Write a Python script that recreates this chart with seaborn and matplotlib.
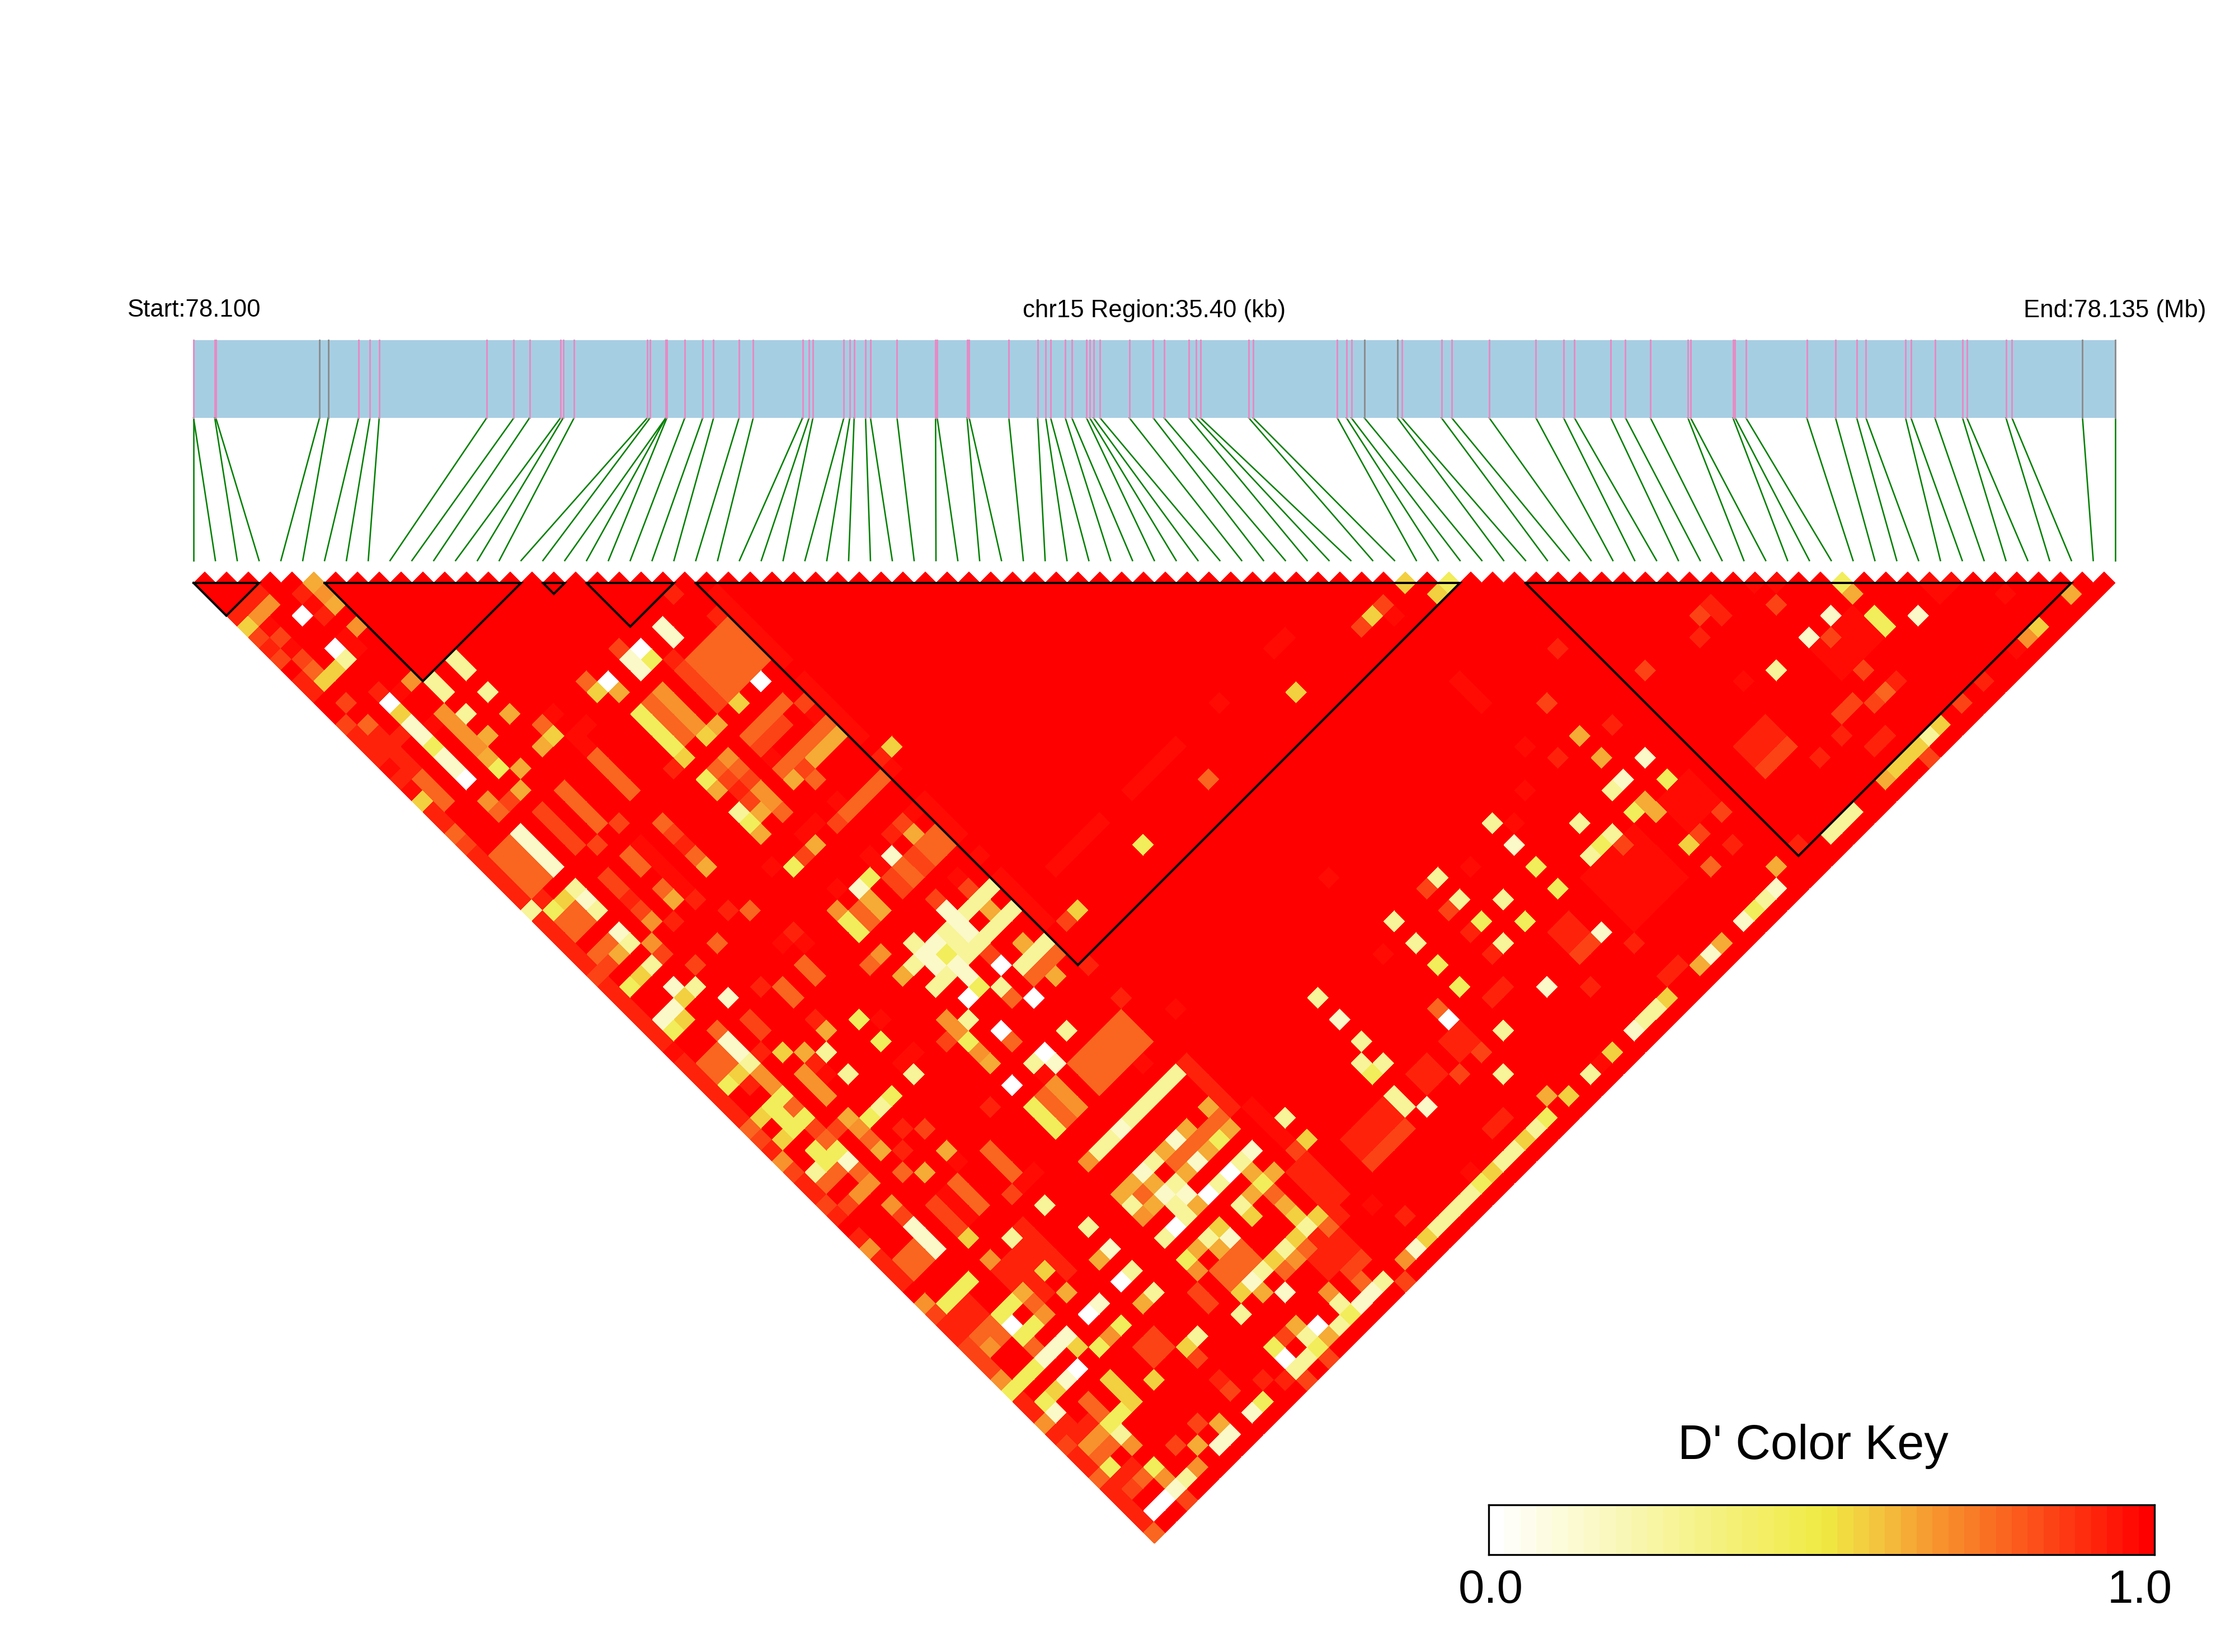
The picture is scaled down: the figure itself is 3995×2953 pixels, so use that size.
import matplotlib
matplotlib.use("Agg")
import matplotlib.pyplot as plt
import seaborn as sns
import numpy as np
from matplotlib.colors import LinearSegmentedColormap
from matplotlib.transforms import Affine2D

plt.rcParams["font.family"] = ["Liberation Sans", "DejaVu Sans"]

# SNP positions in kb from the region start
snp_kb = [0.00, 0.00, 0.39, 0.41, 2.32, 2.48, 3.04, 3.25, 3.42, 5.40, 5.90, 6.19, 6.76, 6.81, 7.01,
          8.36, 8.41, 8.70, 8.70, 8.72, 9.05, 9.38, 9.58, 10.05, 10.31, 11.22, 11.34, 11.41, 11.98,
          12.09, 12.17, 12.38, 12.47, 12.96, 13.67, 13.70, 14.25, 14.29, 15.02, 15.55, 15.70, 15.79,
          16.06, 16.18, 16.45, 16.51, 16.58, 16.70, 17.24, 17.68, 17.88, 18.34, 18.47, 18.55, 19.44,
          19.52, 21.07, 21.24, 21.33, 21.57, 22.18, 22.26, 22.99, 23.18, 23.87, 24.73, 25.24, 25.44,
          26.11, 26.38, 26.84, 27.53, 27.58, 28.36, 28.40, 28.60, 29.72, 30.25, 30.64, 30.81, 31.54,
          31.64, 32.08, 32.59, 32.67, 33.39, 33.50, 34.80, 35.40]
gray_snps = [4, 5, 59, 60, 87, 88]
region_kb = 35.40

# LD blocks, first and last SNP
blocks = [(0, 3), (6, 15), (16, 17), (18, 22), (23, 58), (61, 86)]

# D' levels
WHITE, CREAM, PALE, YELLOW, GOLD, AMBER = 0.02, 0.15, 0.28, 0.45, 0.55, 0.62
ORANGE, CORAL, TOMATO, RED_D, RED_S = 0.69, 0.78, 0.84, 0.91, 0.96

white_cells = [(3, 6), (3, 9), (3, 14), (3, 21), (17, 23), (21, 30), (19, 57), (16, 54), (19, 54), (16, 57),
               (14, 60), (17, 60), (3, 71), (4, 76), (1, 86), (2, 86), (20, 74), (18, 74), (15, 74), (7, 74),
               (10, 74), (17, 85), (14, 85), (37, 77), (14, 23)]
cream_cells = [(3, 16), (3, 17), (3, 19), (3, 20), (19, 23), (19, 24), (16, 24), (19, 44), (16, 44), (19, 49),
               (19, 50), (19, 51), (17, 50), (16, 50), (16, 51), (17, 52), (17, 53), (3, 45), (3, 46), (1, 41),
               (2, 41), (1, 77), (3, 56), (3, 62), (3, 63), (3, 64), (4, 74), (5, 74), (3, 74), (3, 76), (17, 61),
               (17, 67), (16, 70), (19, 70), (19, 72), (16, 72), (17, 73), (17, 77), (16, 80), (17, 82), (10, 86),
               (8, 86), (7, 86), (3, 86), (21, 86), (20, 86), (25, 86), (8, 74), (22, 74), (32, 72), (32, 80),
               (48, 72), (58, 74), (56, 74), (73, 76), (71, 76), (77, 80), (58, 86), (55, 86), (52, 86), (45, 86),
               (48, 80), (43, 80), (11, 72), (3, 40), (5, 43), (3, 32), (3, 35), (16, 23)]
pale_cells = [(3, 10), (6, 15), (6, 16), (8, 15), (8, 16), (8, 18), (6, 18), (0, 30), (22, 50), (21, 50), (20, 50),
              (21, 52), (22, 52), (20, 52), (19, 52), (18, 51), (18, 50), (16, 49), (15, 50), (18, 52), (16, 52),
              (15, 52), (18, 55), (20, 55), (21, 55), (22, 55), (14, 35), (3, 38), (4, 41), (7, 50), (7, 52),
              (3, 47), (10, 55), (7, 55), (1, 55), (15, 55), (16, 60), (19, 60), (10, 67), (7, 67),
              (22, 67), (21, 67), (20, 67), (19, 67), (18, 67), (16, 67), (15, 67), (17, 70), (17, 72), (14, 71),
              (21, 74), (19, 74), (16, 73), (16, 74), (14, 74), (19, 76), (16, 76), (21, 80), (19, 80), (17, 80),
              (14, 81), (22, 86), (19, 85), (18, 86), (16, 85), (15, 86), (14, 86), (27, 86), (28, 86), (29, 86),
              (30, 86), (33, 86), (34, 86), (32, 74), (31, 75), (32, 76), (31, 78), (31, 79), (39, 80), (37, 82),
              (25, 74), (11, 70), (11, 74), (11, 76), (11, 80), (3, 81), (4, 86), (48, 70), (43, 70), (43, 72),
              (45, 74), (43, 76), (39, 70), (39, 72), (32, 70), (68, 76), (55, 74), (52, 74), (53, 76), (51, 76),
              (57, 86), (47, 86), (46, 86), (41, 86), (36, 86), (65, 86), (64, 86), (63, 86), (72, 86),
              (3, 31), (3, 33), (3, 36)]
yellow_cells = [(3, 18), (5, 22), (14, 36), (14, 32), (14, 40), (17, 24), (17, 44), (14, 45), (14, 46), (17, 51),
                (17, 54), (1, 42), (1, 47), (3, 50), (2, 50), (2, 51), (3, 52), (2, 52), (10, 50), (10, 52), (14, 56),
                (8, 55), (6, 55), (3, 55), (2, 55), (0, 74), (1, 74), (2, 74), (3, 67), (2, 67), (1, 67), (4, 70),
                (3, 70), (4, 72), (3, 72), (1, 76), (4, 80), (3, 80), (3, 84), (1, 82), (6, 76), (8, 76), (21, 72),
                (21, 76), (14, 76), (11, 86), (16, 86), (14, 84), (19, 86), (31, 86), (31, 76), (45, 76), (43, 74),
                (39, 74), (39, 76), (31, 55), (48, 74), (48, 76), (52, 76), (55, 76), (58, 76), (56, 86), (37, 86),
                (75, 75), (75, 78), (75, 79), (57, 57), (1, 31), (1, 38), (2, 54)]
gold_cells = [(0, 4), (2, 10), (1, 10), (0, 20), (3, 15), (19, 30), (16, 30), (14, 30), (2, 38), (3, 41), (24, 39),
              (25, 55), (2, 42), (2, 47), (1, 50), (1, 52), (5, 48), (5, 65), (2, 76), (5, 75), (7, 70), (19, 77),
              (21, 79), (22, 80), (20, 80), (18, 80), (15, 80), (25, 76), (32, 86), (26, 86), (35, 86), (10, 80),
              (5, 78), (5, 79), (5, 80), (7, 80), (17, 76), (55, 55), (56, 57), (52, 55), (45, 55), (56, 80),
              (48, 86), (43, 86), (39, 86), (73, 86), (71, 86), (70, 86), (69, 86), (82, 86), (2, 31), (9, 23), (13, 23)]
amber_cells = [(5, 5), (5, 7), (6, 20), (8, 20), (6, 23), (5, 24), (5, 21), (21, 44), (21, 51), (21, 54),
               (21, 57), (17, 30), (21, 36), (22, 36), (20, 36), (18, 36), (14, 33), (15, 36), (14, 37), (16, 40),
               (16, 45), (16, 46), (10, 36), (7, 36), (6, 49), (8, 49), (14, 50), (5, 57), (14, 58), (5, 54),
               (8, 60), (6, 60), (5, 70), (7, 72), (22, 70), (20, 70), (18, 70), (15, 70), (14, 70), (22, 72),
               (20, 72), (18, 72), (15, 72), (16, 71), (17, 74), (21, 75), (22, 76), (20, 76), (15, 76), (16, 77),
               (21, 78), (16, 81), (16, 84), (17, 86), (10, 72), (10, 76), (8, 85), (6, 85), (38, 85),
               (56, 70), (56, 72), (56, 76), (56, 77), (75, 76), (85, 86), (59, 85), (53, 86), (51, 86), (68, 86),
               (2, 36), (8, 23), (14, 24), (8, 85)]
orange_cells = [(5, 6), (2, 4), (1, 4), (5, 9), (5, 14), (5, 17), (5, 18), (5, 19), (5, 20), (3, 23), (16, 32), (16, 35),
                (16, 36), (14, 48), (14, 44), (5, 36), (4, 37), (3, 48), (3, 49), (5, 50), (5, 51), (5, 52),
                (5, 55), (3, 58), (2, 58), (3, 60), (14, 54), (14, 55), (14, 57), (5, 67), (5, 72), (0, 53), (0, 61),
                (0, 66), (0, 73), (0, 77), (14, 67), (14, 72), (14, 77), (7, 76), (19, 81), (19, 84), (24, 86),
                (1, 80), (2, 80), (3, 82), (5, 86), (3, 85), (81, 86), (1, 71)]
coral_cells = [(1, 9), (1, 19), (1, 20), (1, 21), (0, 23), (3, 24), (1, 14), (18, 32), (18, 35), (19, 37), (19, 32),
               (20, 32), (21, 32), (22, 35), (21, 35), (20, 35), (19, 35), (15, 32), (16, 33), (16, 37), (22, 40),
               (21, 40), (20, 40), (19, 40), (22, 45), (22, 46), (21, 45), (21, 46), (19, 45), (19, 46), (15, 45),
               (15, 46), (10, 32), (10, 35), (10, 45), (10, 46), (7, 33), (7, 35), (7, 40), (10, 40), (13, 48),
               (22, 56), (21, 56), (20, 56), (18, 56), (3, 44), (2, 56), (1, 56), (3, 51), (3, 57), (5, 56), (5, 59),
               (16, 58), (37, 76), (37, 55), (56, 82), (72, 82), (15, 71), (22, 71), (21, 71), (20, 71), (19, 71),
               (18, 71), (21, 77), (17, 78), (17, 79), (16, 78), (16, 79), (15, 78), (15, 79), (22, 81), (20, 81),
               (18, 81), (3, 73), (5, 71), (0, 50), (0, 82), (0, 87), (1, 81), (2, 81), (2, 84), (1, 32), (1, 33),
               (2, 32), (2, 33), (2, 35), (1, 35), (7, 32), (13, 22), (9, 22), (3, 54), (8, 45), (8, 46), (3, 78),
               (3, 79), (21, 85)]
tomato_cells = [(0, 5), (0, 7), (1, 6), (1, 8), (1, 12), (0, 13), (4, 24), (0, 24), (18, 33), (19, 33), (20, 33),
                (15, 33), (15, 35), (15, 40), (18, 40), (16, 34), (22, 33), (10, 33), (20, 45), (20, 46), (18, 45),
                (18, 46), (21, 43), (19, 48), (21, 49), (5, 35), (5, 40), (4, 38), (19, 36), (19, 53), (24, 55),
                (13, 55), (1, 58), (0, 51), (0, 54), (0, 57), (0, 67), (0, 70), (0, 71), (0, 72), (0, 79), (3, 61),
                (9, 65), (1, 84), (3, 87), (10, 81), (13, 78), (13, 79), (15, 84),
                (10, 84), (16, 87), (14, 87), (7, 84), (24, 76), (23, 87), (37, 80), (35, 80), (42, 70), (42, 72),
                (53, 55), (51, 55), (71, 73), (67, 70), (62, 70), (56, 67), (72, 77), (72, 80), (71, 82), (70, 81),
                (69, 81), (75, 86), (71, 87), (53, 77), (57, 80), (59, 80), (46, 80), (5, 32), (5, 33), (6, 30),
                (8, 30), (1, 36), (0, 36), (16, 22), (5, 45), (5, 46), (4, 54), (3, 53), (8, 58), (5, 84), (22, 84),
                (21, 84)]
scarlet_cells = [(2, 3), (4, 5), (1, 3), (4, 7), (0, 3), (0, 6), (0, 9), (0, 10), (3, 13), (0, 14), (0, 15), (0, 16),
                 (0, 18), (0, 21), (0, 22), (0, 25), (2, 16), (13, 30), (21, 22), (22, 25), (18, 25), (15, 34),
                 (10, 34), (8, 37), (6, 37), (9, 39), (11, 43), (23, 39), (20, 43), (22, 43), (23, 58), (23, 61),
                 (12, 60), (0, 31), (0, 32), (0, 33), (0, 34), (0, 40), (0, 41), (0, 42), (0, 44), (0, 45), (0, 46),
                 (0, 47), (0, 48), (0, 49), (0, 52), (0, 55), (0, 56), (0, 58), (0, 60), (0, 62), (0, 63), (0, 64),
                 (0, 68), (0, 69), (0, 75), (0, 76), (0, 78), (0, 80), (0, 81), (0, 83), (0, 84), (0, 85), (0, 86),
                 (2, 48), (26, 84), (35, 84), (34, 84), (10, 83), (12, 85), (13, 86), (42, 74), (42, 76), (41, 78),
                 (40, 78), (59, 65), (66, 71), (68, 70), (68, 71), (66, 82), (68, 82), (69, 84), (70, 84), (73, 82),
                 (61, 85), (58, 71), (54, 70), (58, 82), (49, 82), (45, 82), (50, 85), (49, 85), (77, 86), (1, 30),
                 (5, 34), (8, 48), (4, 47), (6, 50), (7, 57), (6, 58), (2, 79), (1, 78), (1, 79), (1, 83), (2, 83),
                 (7, 44)]
pale_red_cells = [(4, 6), (1, 5), (1, 7), (4, 9), (4, 10), (4, 14), (4, 17), (0, 17), (0, 19), (0, 43), (8, 61), (11, 65),
                  (10, 65), (11, 51), (11, 54), (10, 54), (16, 61), (21, 48), (18, 43), (18, 44), (15, 43), (23, 48),
                  (23, 40), (19, 39), (17, 39), (16, 39), (13, 39), (10, 43), (11, 44), (18, 34), (22, 34),
                  (23, 37), (21, 65), (26, 52), (27, 52), (28, 52), (30, 52), (29, 52), (46, 52), (47, 52), (41, 52),
                  (38, 65), (53, 56), (49, 71), (45, 71), (53, 68), (51, 70), (37, 71), (71, 71), (72, 72), (79, 79),
                  (80, 80), (79, 80), (82, 83), (31, 85), (25, 82), (66, 75), (80, 86), (42, 86), (22, 43), (25, 64),
                  (11, 24), (10, 24), (10, 25), (10, 22), (6, 51)]

# runs of linked SNPs that share one D' value: first a, last a, first b, last b, value
patches = [(1, 2, 26, 29, CORAL), (3, 3, 26, 29, CREAM), (5, 5, 26, 29, TOMATO), (7, 7, 26, 29, CORAL),
           (10, 10, 26, 29, CORAL), (14, 14, 26, 29, YELLOW), (15, 15, 26, 29, CORAL), (16, 16, 26, 29, ORANGE),
           (18, 18, 26, 29, TOMATO), (19, 20, 26, 29, CORAL), (21, 22, 26, 29, CORAL), (23, 23, 24, 30, RED_S),
           (23, 23, 32, 37, RED_S), (23, 23, 43, 46, RED_S), (23, 23, 50, 54, RED_S), (1, 2, 45, 46, CORAL),
           (18, 22, 62, 64, CORAL), (10, 10, 62, 64, CORAL), (7, 7, 62, 64, CORAL), (5, 5, 62, 64, TOMATO),
           (6, 6, 62, 64, RED_S), (1, 2, 63, 64, CORAL), (16, 16, 62, 64, ORANGE), (15, 15, 62, 64, CORAL),
           (14, 14, 62, 64, YELLOW), (27, 30, 78, 79, RED_D), (27, 30, 80, 80, TOMATO), (33, 34, 78, 79, RED_D),
           (36, 37, 78, 79, RED_D), (46, 47, 78, 79, RED_D), (46, 47, 80, 80, TOMATO), (63, 65, 78, 79, RED_D),
           (63, 65, 80, 80, TOMATO), (8, 8, 32, 36, RED_S), (53, 53, 62, 64, RED_S), (33, 37, 52, 52, RED_S),
           (50, 54, 77, 81, RED_S), (57, 59, 77, 79, RED_S), (71, 74, 77, 79, RED_S), (23, 23, 67, 71, RED_D),
           (24, 24, 72, 75, RED_S), (23, 23, 77, 81, RED_D), (24, 24, 77, 80, RED_D), (0, 0, 26, 29, RED_D),
           (0, 0, 35, 39, RED_D), (1, 1, 15, 18, RED_D), (1, 2, 68, 69, RED_D), (1, 2, 70, 71, CORAL),
           (5, 7, 68, 69, RED_D), (8, 8, 67, 71, RED_D), (6, 6, 70, 71, RED_D), (21, 21, 81, 83, RED_D),
           (22, 22, 82, 83, RED_D), (20, 20, 82, 83, RED_D), (8, 9, 78, 79, TOMATO)]

key_levels = np.linspace(0, 1, 42)

cell_groups = [(scarlet_cells, RED_D), (pale_red_cells, RED_S), (tomato_cells, TOMATO), (coral_cells, CORAL),
               (orange_cells, ORANGE), (amber_cells, AMBER), (gold_cells, GOLD), (yellow_cells, YELLOW),
               (pale_cells, PALE), (cream_cells, CREAM), (white_cells, WHITE)]

# filling the matrix
n_cells = len(snp_kb) - 1
dprime = np.ones((n_cells, n_cells))
for a0, a1, b0, b1, value in patches:
    dprime[a0:a1 + 1, b0:b1 + 1] = value
for cells, value in cell_groups:
    for a, b in cells:
        dprime[a, b] = value
mask = np.tril(np.ones_like(dprime, dtype=bool), -1)

cmap = LinearSegmentedColormap.from_list(
    "ld", [(0, "#FFFFFF"), (0.5, "#F0EB43"), (0.58, "#F3C83F"), (0.67, "#F7982F"), (0.8, "#FB5C1D"), (1, "#FF0000")], N=42)

w, h = 3995, 2953
fig = plt.figure(figsize=(w / 300, h / 300), dpi=300, facecolor="white")
ax = fig.add_axes([0, 0, 1, 1])

sns.heatmap(dprime, mask=mask, cmap=cmap, vmin=0, vmax=1, cbar=False, xticklabels=False, yticklabels=False, ax=ax)
# turn the square matrix 45 degrees, one unit = one SNP step
mesh = ax.collections[0]
mesh.set_transform(Affine2D.from_values(0.5, 0.5, 0.5, -0.5, 0, 0) + ax.transData)
mesh.set_antialiased(False)

x0, top = 346, 1042
step = 39.03
ax.set_xlim(-x0 / step, (w - x0) / step)
ax.set_ylim((h - top) / step, -top / step)
ax.axis("off")

# black block outlines
for k0, k1 in blocks:
    size = k1 - k0
    ax.plot([k0, k1, k0 + size / 2, k0], [0, 0, size / 2, 0], color="black", lw=0.95, solid_joinstyle="miter")

# gene bar and the lines down to the triangle
scale = n_cells / region_kb
bar_top, bar_bottom = (607.5 - top) / step, (747 - top) / step
link_bottom = (1002 - top) / step
ax.fill_between([0, n_cells], bar_top, bar_bottom, color="#A6CEE3", lw=0)
for k, kb in enumerate(snp_kb):
    ax.plot([kb * scale, k], [bar_bottom, link_bottom], color="green", lw=0.62)
    ax.plot([kb * scale, kb * scale], [bar_top, bar_bottom], color="#8C8C8C" if k in gray_snps else "#E78AC3", lw=0.7)

text_y = (555 - top) / step
ax.text(0, text_y, "Start:78.100", ha="center", va="center", fontsize=10.5)
ax.text(n_cells / 2, text_y, "chr15 Region:35.40 (kb)", ha="center", va="center", fontsize=10.5)
ax.text(n_cells, text_y, "End:78.135 (Mb)", ha="center", va="center", fontsize=10.5)

# color key
key_ax = fig.add_axes([2661 / w, 1 - 2779 / h, 1190 / w, 89 / h])
sns.heatmap([key_levels], cmap=cmap, vmin=0, vmax=1, cbar=False, xticklabels=False, yticklabels=False, ax=key_ax)
for side in key_ax.spines.values():
    side.set_visible(True)
    side.set_linewidth(0.8)
fig.text(3241 / w, 1 - 2585 / h, "D' Color Key", ha="center", va="center", fontsize=20.8)
fig.text(2665 / w, 1 - 2843 / h, "0.0", ha="center", va="center", fontsize=20)
fig.text(3825 / w, 1 - 2843 / h, "1.0", ha="center", va="center", fontsize=20)

fig.savefig("out.png", dpi=300)
